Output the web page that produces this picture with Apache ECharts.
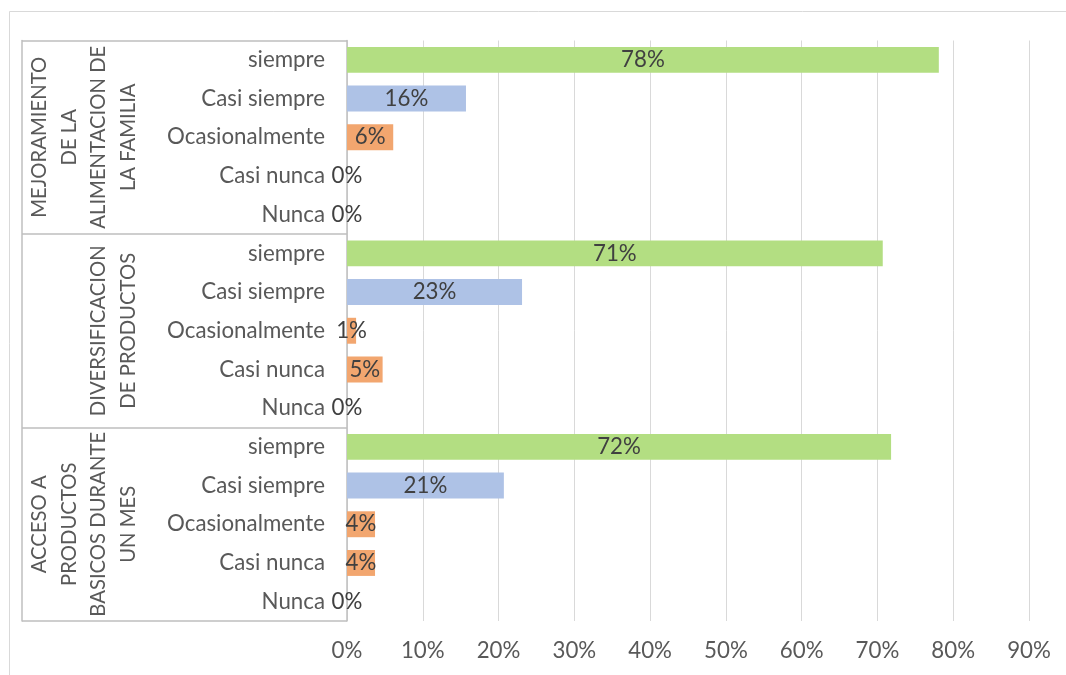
<!DOCTYPE html>
<html>
<head>
<meta charset="utf-8">
<script src="https://cdn.jsdelivr.net/npm/echarts@6/dist/echarts.min.js"></script>
<style>
html,body{margin:0;padding:0;background:#fff;overflow:hidden}
#chart{width:1066px;height:675px}
</style>
</head>
<body>
<div id="chart"></div>
<script>
// ---- data ----
const groups = [
  "MEJORAMIENTO\nDE LA\nALIMENTACION DE\nLA FAMILIA",
  "DIVERSIFICACION\nDE PRODUCTOS",
  "ACCESO A\nPRODUCTOS\nBASICOS DURANTE\nUN MES"
];
const levels = ["siempre", "Casi siempre", "Ocasionalmente", "Casi nunca", "Nunca"];
const valuesMejoramiento = [0.781, 0.157, 0.061, 0, 0];
const valuesDiversificacion = [0.707, 0.231, 0.012, 0.047, 0];
const valuesAcceso = [0.718, 0.207, 0.037, 0.037, 0];
const xTicks = [0, 0.1, 0.2, 0.3, 0.4, 0.5, 0.6, 0.7, 0.8, 0.9];

const levelColors = {
  "siempre": "#b3de82",
  "Casi siempre": "#aec2e6",
  "Ocasionalmente": "#f2a66f",
  "Casi nunca": "#f2a66f",
  "Nunca": "#f2a66f"
};

const allValues = [valuesMejoramiento, valuesDiversificacion, valuesAcceso];
const categories = [];
const barData = [];
allValues.forEach(function (vals) {
  vals.forEach(function (v, i) {
    categories.push(levels[i]);
    barData.push({ value: v, itemStyle: { color: levelColors[levels[i]] } });
  });
});

const FONT = "Lato";
const FS = 22.3;
const FS_GROUP = 20.3;

const chart = echarts.init(document.getElementById('chart'), null, { renderer: 'canvas' });
chart.setOption({
  animation: false,
  backgroundColor: '#ffffff',
  textStyle: { fontFamily: FONT },
  graphic: [{
    type: 'rect', silent: true, z: -10,
    shape: { x: 9.5, y: 11.5, width: 1200, height: 800 },
    style: { fill: 'none', stroke: '#d9d9d9', lineWidth: 1 }
  }],
  grid: { left: 347, right: 37, top: 40.5, bottom: 54, containLabel: false },
  xAxis: {
    type: 'value',
    min: xTicks[0], max: xTicks[xTicks.length - 1], interval: 0.1,
    axisLine: { show: false },
    axisTick: { show: false },
    splitLine: { show: true, lineStyle: { color: '#d9d9d9', width: 1 } },
    axisLabel: {
      color: '#595959', fontFamily: FONT, fontSize: FS, margin: 19,
      formatter: function (v) { return Math.round(v * 100) + '%'; }
    }
  },
  yAxis: [{
    type: 'category', inverse: true, data: categories,
    axisLine: { show: true, lineStyle: { color: '#bfbfbf', width: 1.5 } },
    axisTick: { show: false },
    axisLabel: { color: '#595959', fontFamily: FONT, fontSize: FS, margin: 22, interval: 0 }
  }, {
    type: 'category', inverse: true, data: groups, position: 'left', offset: 325,
    axisLine: { show: true, lineStyle: { color: '#bfbfbf', width: 1.5 } },
    axisTick: { show: true, inside: true, length: 325, lineStyle: { color: '#bfbfbf', width: 1.5 } },
    axisLabel: { show: false }
  }, {
    type: 'category', inverse: true, data: groups, position: 'left', offset: 202,
    axisLine: { show: false },
    axisTick: { show: false },
    axisLabel: {
      show: true, rotate: 90, margin: 2, interval: 0,
      color: '#595959', fontFamily: FONT, fontSize: FS_GROUP, lineHeight: 29.5, align: 'center'
    }
  }],
  series: [{
    type: 'bar', yAxisIndex: 0, data: barData,
    barCategoryGap: '33%',
    label: {
      show: true, position: 'inside', color: '#404040', fontFamily: FONT, fontSize: FS,
      formatter: function (p) { return Math.round(p.value * 100) + '%'; }
    }
  }]
});
</script>
</body>
</html>
